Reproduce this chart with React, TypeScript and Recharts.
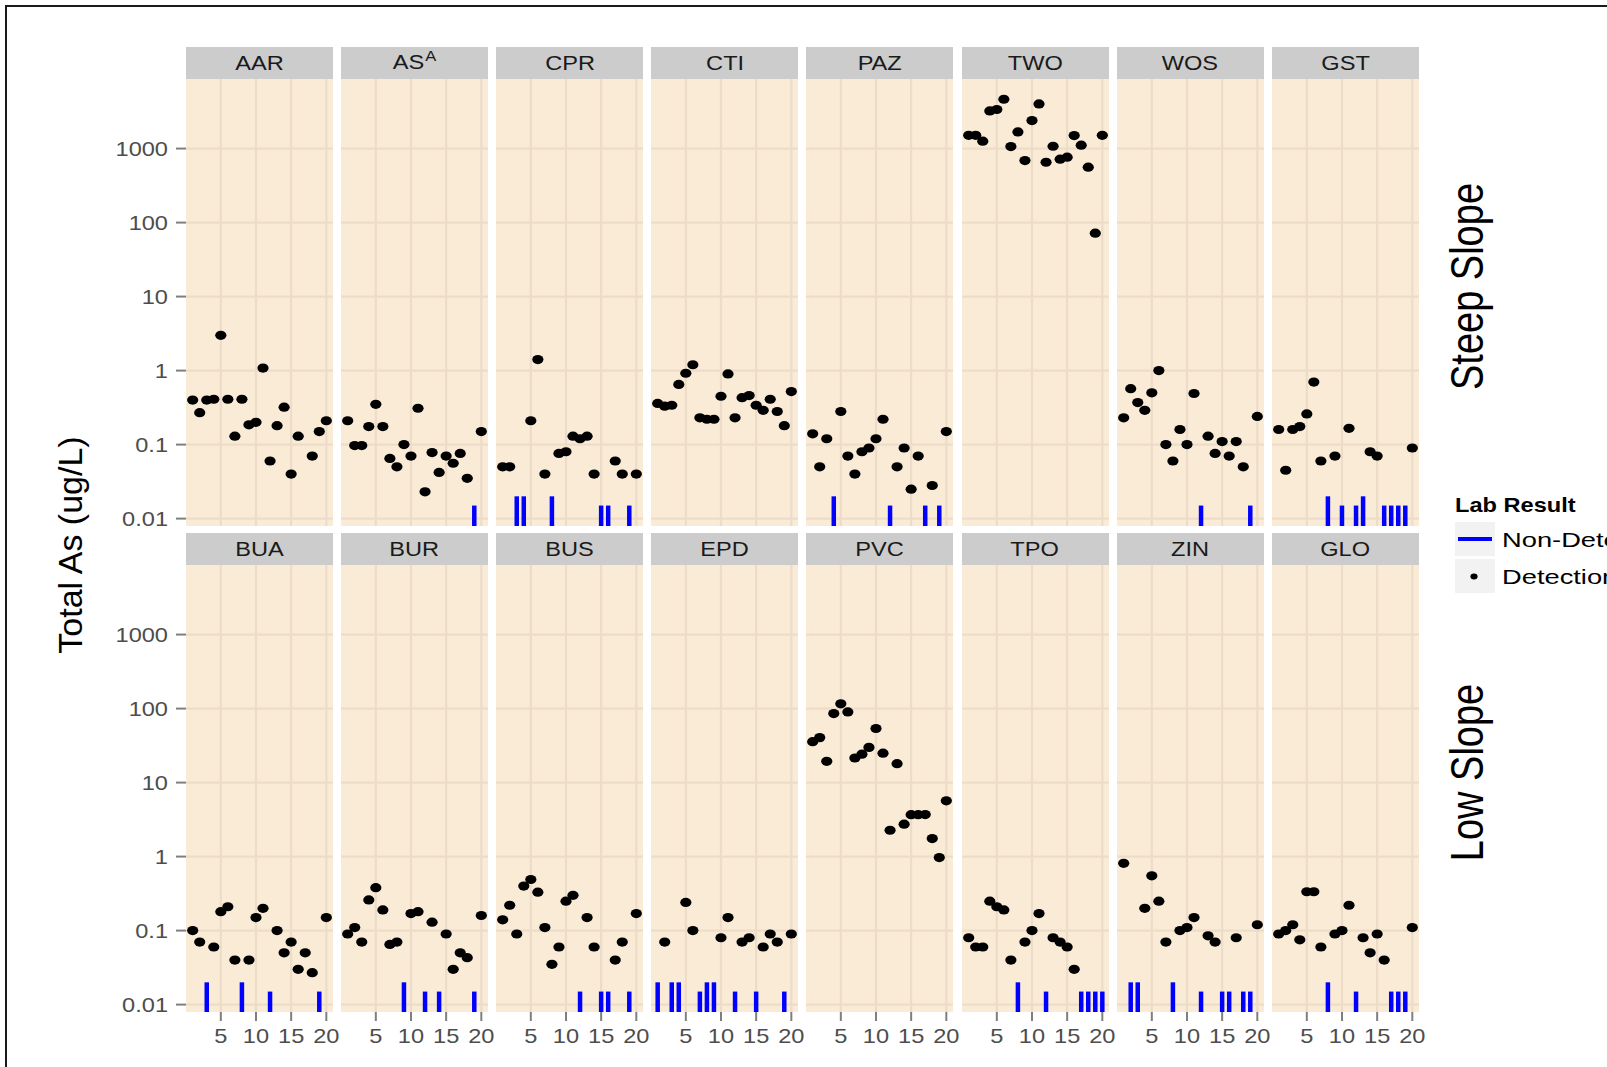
import { CartesianGrid, ReferenceLine, Scatter, ScatterChart, XAxis, YAxis } from "recharts";

// sample number runs 1..20; null = nothing reported as a detection
const aar = [0.4, 0.27, 0.4, 0.41, 3.0, 0.41, 0.13, 0.41, 0.185, 0.2, 1.08, 0.06, 0.18, 0.32, 0.04, 0.13, null, 0.07, 0.15, 0.21];
const asa = [0.21, 0.097, 0.097, 0.175, 0.35, 0.175, 0.065, 0.05, 0.1, 0.07, 0.31, 0.023, 0.078, 0.042, 0.07, 0.056, 0.076, 0.035, null, 0.15];
const cpr = [0.05, 0.05, null, null, 0.21, 1.41, 0.04, null, 0.076, 0.08, 0.13, 0.12, 0.13, 0.04, null, null, 0.06, 0.04, null, 0.04];
const cti = [0.36, 0.33, 0.34, 0.65, 0.92, 1.2, 0.23, 0.22, 0.22, 0.45, 0.9, 0.23, 0.43, 0.46, 0.34, 0.29, 0.41, 0.28, 0.18, 0.52];
const paz = [0.14, 0.05, 0.12, null, 0.28, 0.07, 0.04, 0.08, 0.09, 0.12, 0.22, null, 0.05, 0.09, 0.025, 0.07, null, 0.028, null, 0.15];
const two = [1510, 1510, 1260, 3230, 3370, 4640, 1065, 1680, 689, 2390, 4010, 653, 1075, 718, 764, 1500, 1110, 560, 72, 1510];
const wos = [0.23, 0.57, 0.37, 0.29, 0.5, 1.0, 0.1, 0.06, 0.16, 0.1, 0.49, null, 0.13, 0.076, 0.11, 0.07, 0.11, 0.05, null, 0.24];
const gst = [0.16, 0.045, 0.16, 0.175, 0.26, 0.7, 0.06, null, 0.07, null, 0.166, null, null, 0.08, 0.07, null, null, null, null, 0.09];

const bua = [0.1, 0.07, null, 0.06, 0.18, 0.21, 0.04, null, 0.04, 0.15, 0.2, null, 0.1, 0.05, 0.07, 0.03, 0.05, 0.027, null, 0.15];
const bur = [0.09, 0.11, 0.07, 0.26, 0.38, 0.19, 0.065, 0.07, null, 0.17, 0.18, null, 0.13, null, 0.09, 0.03, 0.05, 0.043, null, 0.16];
const bus = [0.14, 0.22, 0.09, 0.4, 0.49, 0.33, 0.11, 0.035, 0.06, 0.25, 0.3, null, 0.15, 0.06, null, null, 0.04, 0.07, null, 0.17];
const epd = [null, 0.07, null, null, 0.24, 0.1, null, null, null, 0.08, 0.15, null, 0.07, 0.08, null, 0.06, 0.09, 0.07, null, 0.09];
const pvc = [35.7, 40.5, 19.4, 85.5, 116, 90, 21.5, 24.2, 29.9, 53.8, 25, 2.27, 18, 2.74, 3.68, 3.68, 3.7, 1.75, 0.97, 5.67];
const tpo = [0.08, 0.06, 0.06, 0.25, 0.21, 0.19, 0.04, null, 0.07, 0.1, 0.17, null, 0.08, 0.07, 0.06, 0.03, null, null, null, null];
const zin = [0.81, null, null, 0.2, 0.55, 0.25, 0.07, null, 0.1, 0.11, 0.15, null, 0.085, 0.07, null, null, 0.08, null, null, 0.12];
const glo = [0.09, 0.1, 0.12, 0.075, 0.335, 0.335, 0.06, null, 0.09, 0.1, 0.22, null, 0.08, 0.05, 0.09, 0.04, null, null, null, 0.11];

// non-detects: [sample, reporting limit]
const asaNd: [number, number][] = [[19, 0.015]];
const cprNd: [number, number][] = [[3, 0.02], [4, 0.02], [8, 0.02], [15, 0.015], [16, 0.015], [19, 0.015]];
const pazNd: [number, number][] = [[4, 0.02], [12, 0.015], [17, 0.015], [19, 0.015]];
const wosNd: [number, number][] = [[12, 0.015], [19, 0.015]];
const gstNd: [number, number][] = [[8, 0.02], [10, 0.015], [12, 0.015], [13, 0.02], [16, 0.015], [17, 0.015], [18, 0.015], [19, 0.015]];
const buaNd: [number, number][] = [[3, 0.02], [8, 0.02], [12, 0.015], [19, 0.015]];
const burNd: [number, number][] = [[9, 0.02], [12, 0.015], [14, 0.015], [19, 0.015]];
const busNd: [number, number][] = [[12, 0.015], [15, 0.015], [16, 0.015], [19, 0.015]];
const epdNd: [number, number][] = [[1, 0.02], [3, 0.02], [4, 0.02], [7, 0.015], [8, 0.02], [9, 0.02], [12, 0.015], [15, 0.015], [19, 0.015]];
const tpoNd: [number, number][] = [[8, 0.02], [12, 0.015], [17, 0.015], [18, 0.015], [19, 0.015], [20, 0.015]];
const zinNd: [number, number][] = [[2, 0.02], [3, 0.02], [8, 0.02], [12, 0.015], [15, 0.015], [16, 0.015], [18, 0.015], [19, 0.015]];
const gloNd: [number, number][] = [[8, 0.02], [12, 0.015], [17, 0.015], [18, 0.015], [19, 0.015]];

const rowLabels = ["Steep Slope", "Low Slope"];
const yTicks = [0.01, 0.1, 1, 10, 100, 1000];
const xTicks = [5, 10, 15, 20];

type Site = { name: string; sup?: string; values: (number | null)[]; nd: [number, number][] };

const rows: Site[][] = [
  [
    { name: "AAR", values: aar, nd: [] },
    { name: "AS", sup: "A", values: asa, nd: asaNd },
    { name: "CPR", values: cpr, nd: cprNd },
    { name: "CTI", values: cti, nd: [] },
    { name: "PAZ", values: paz, nd: pazNd },
    { name: "TWO", values: two, nd: [] },
    { name: "WOS", values: wos, nd: wosNd },
    { name: "GST", values: gst, nd: gstNd },
  ],
  [
    { name: "BUA", values: bua, nd: buaNd },
    { name: "BUR", values: bur, nd: burNd },
    { name: "BUS", values: bus, nd: busNd },
    { name: "EPD", values: epd, nd: epdNd },
    { name: "PVC", values: pvc, nd: [] },
    { name: "TPO", values: tpo, nd: tpoNd },
    { name: "ZIN", values: zin, nd: zinNd },
    { name: "GLO", values: glo, nd: gloNd },
  ],
];

const FONT = '"Liberation Sans", Arial, Helvetica, sans-serif';
const WIDE = 1.18; // text is drawn a little wider than tall

const PANEL_X0 = 186;
const PANEL_STEP = 155.1;
const PANEL_W = 147;
const PLOT_H = 447;
const ROW_TOP = [79, 565];
const STRIP_H = 32;
const Y_AXIS_W = 100;
const X_AXIS_H = 45;

const Y_DOMAIN: [number, number] = [Math.pow(10, -2.1), Math.pow(10, 3.94)];
const X_DOMAIN: [number, number] = [0.05, 20.95];

const fmtY = (v: number) => (v < 1 ? String(v) : v.toFixed(0));

function YTick({ x, y, payload }: any) {
  return (
    <g transform={`translate(${x},${y})`}>
      <text transform={`scale(${WIDE},1)`} textAnchor="end" dy="0.36em" fontSize={20} fill="#4D4D4D" fontFamily={FONT}>
        {fmtY(payload.value)}
      </text>
    </g>
  );
}

function XTick({ x, y, payload }: any) {
  return (
    <g transform={`translate(${x},${y})`}>
      <text transform={`scale(${WIDE},1)`} textAnchor="middle" dy="0.72em" fontSize={20} fill="#4D4D4D" fontFamily={FONT}>
        {payload.value}
      </text>
    </g>
  );
}

const dot = (p: any) => <ellipse cx={p.cx} cy={p.cy} rx={5.6} ry={4.6} fill="#000" />;

function Panel({ site, row, col }: { site: Site; row: number; col: number }) {
  const showY = col === 0;
  const showX = row === 1;
  const left = PANEL_X0 + col * PANEL_STEP - (showY ? Y_AXIS_W : 0);
  const width = PANEL_W + (showY ? Y_AXIS_W : 0);
  const height = PLOT_H + (showX ? X_AXIS_H : 0);
  const points = site.values.flatMap((v, i) => (v == null ? [] : [{ x: i + 1, y: v }]));

  return (
    <div style={{ position: "absolute", left, top: ROW_TOP[row] }}>
      <ScatterChart width={width} height={height} margin={{ top: 0, right: 0, bottom: 0, left: 0 }}>
        <CartesianGrid
          fill="#FAEBD7"
          fillOpacity={1}
          stroke="#EDDCC8"
          strokeWidth={2.2}
          horizontalValues={yTicks}
          verticalValues={xTicks}
        />
        <XAxis
          type="number"
          dataKey="x"
          domain={X_DOMAIN}
          ticks={xTicks}
          interval={0}
          allowDataOverflow
          hide={!showX}
          height={X_AXIS_H}
          axisLine={false}
          tickSize={9}
          tickMargin={8}
          tickLine={{ stroke: "#7F7F7F", strokeWidth: 2 }}
          tick={<XTick />}
        />
        <YAxis
          type="number"
          dataKey="y"
          scale="log"
          domain={Y_DOMAIN}
          ticks={yTicks}
          interval={0}
          allowDataOverflow
          hide={!showY}
          width={Y_AXIS_W}
          axisLine={false}
          tickSize={10}
          tickMargin={8}
          tickLine={{ stroke: "#7F7F7F", strokeWidth: 2 }}
          tick={<YTick />}
        />
        {site.nd.map(([x, dl]) => (
          <ReferenceLine
            key={`nd-${x}`}
            segment={[{ x, y: Y_DOMAIN[0] }, { x, y: dl }]}
            stroke="#0000FF"
            strokeWidth={4.5}
            ifOverflow="visible"
          />
        ))}
        <Scatter data={points} isAnimationActive={false} shape={dot} />
      </ScatterChart>
    </div>
  );
}

function Strip({ site, row, col }: { site: Site; row: number; col: number }) {
  return (
    <div
      style={{
        position: "absolute",
        left: PANEL_X0 + col * PANEL_STEP,
        top: ROW_TOP[row] - STRIP_H,
        width: PANEL_W,
        height: STRIP_H,
        background: "#CCCCCC",
        display: "flex",
        alignItems: "center",
        justifyContent: "center",
      }}
    >
      <span
        style={{
          fontFamily: FONT,
          fontSize: 20,
          color: "#1A1A1A",
          transform: `scaleX(${WIDE})`,
          whiteSpace: "nowrap",
          lineHeight: "20px",
        }}
      >
        {site.name}
        {site.sup && <span style={{ fontSize: 14, position: "relative", top: -8, marginLeft: 1 }}>{site.sup}</span>}
      </span>
    </div>
  );
}

export default function App() {
  return (
    <div
      style={{
        position: "absolute",
        left: 0,
        top: 0,
        width: 1607,
        height: 1067,
        overflow: "hidden",
        background: "#FFFFFF",
      }}
    >
      <style>{`.recharts-surface { overflow: visible; }`}</style>
      <div
        style={{
          position: "absolute",
          left: 5,
          top: 5,
          width: 1700,
          height: 1200,
          borderTop: "2px solid #1A1A1A",
          borderLeft: "2px solid #1A1A1A",
        }}
      />
      <svg width={1607} height={1067} style={{ position: "absolute", left: 0, top: 0 }} fontFamily={FONT}>
        <text transform="translate(82,545) rotate(-90)" textAnchor="middle" fontSize={34} fill="#000">
          Total As (ug/L)
        </text>
        {rowLabels.map((label, r) => (
          <text
            key={label}
            transform={`translate(1483,${ROW_TOP[r] - STRIP_H + (PLOT_H + STRIP_H) / 2}) scale(1.2,1) rotate(-90)`}
            textAnchor="middle"
            fontSize={38}
            fill="#000"
          >
            {label}
          </text>
        ))}
        <g>
          <text transform={`translate(1455,512) scale(${WIDE},1)`} fontSize={20} fontWeight="bold" fill="#000">
            Lab Result
          </text>
          <rect x={1455} y={522} width={40} height={34} fill="#F2F2F2" />
          <line x1={1458} x2={1492} y1={539} y2={539} stroke="#0000FF" strokeWidth={4} />
          <text transform="translate(1502,546.5) scale(1.3,1)" fontSize={21} fill="#000">
            Non-Detect
          </text>
          <rect x={1455} y={559} width={40} height={34} fill="#F2F2F2" />
          <ellipse cx={1474} cy={576.5} rx={3.6} ry={3} fill="#000" />
          <text transform="translate(1502,584) scale(1.3,1)" fontSize={21} fill="#000">
            Detection
          </text>
        </g>
      </svg>
      {rows.map((sites, r) =>
        sites.map((site, c) => (
          <div key={site.name}>
            <Strip site={site} row={r} col={c} />
            <Panel site={site} row={r} col={c} />
          </div>
        ))
      )}
    </div>
  );
}
